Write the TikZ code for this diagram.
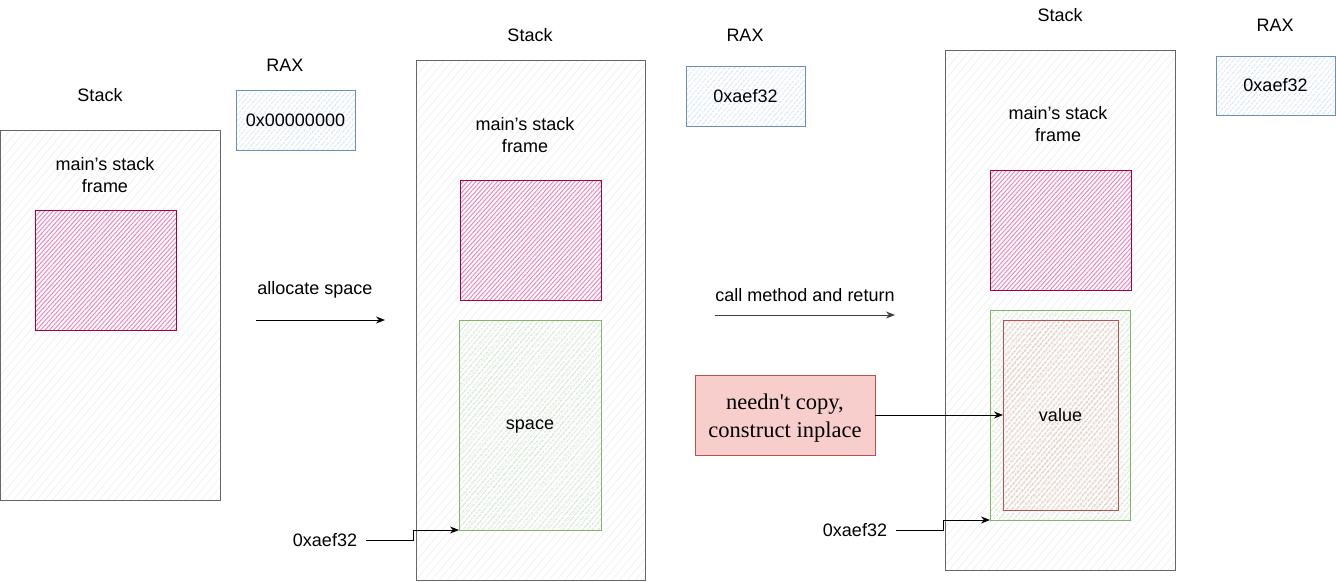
\documentclass[tikz,border=0pt]{standalone}
\usepackage{fontspec}
\setmainfont{Liberation Sans}
\newfontfamily\notefont{Liberation Serif}
\usetikzlibrary{patterns.meta,arrows.meta}
\definecolor{stackstroke}{HTML}{666666}
\definecolor{stackfill}{HTML}{E6E6E6}
\definecolor{pinkstroke}{HTML}{A50040}
\definecolor{pinkfill}{HTML}{D80073}
\definecolor{bluestroke}{HTML}{6C8EBF}
\definecolor{bluefill}{HTML}{DAE8FC}
\definecolor{greenstroke}{HTML}{82B366}
\definecolor{greenfill}{HTML}{D5E8D4}
\definecolor{redstroke}{HTML}{B85450}
\definecolor{redfill}{HTML}{F8CECC}
\tikzset{
  txt/.style={font=\fontsize{18}{22}\selectfont, inner sep=0pt, align=center},
  box/.style={anchor=north west, inner sep=0pt, outer sep=0pt, line width=1pt, txt},
  stackbox/.style={box, draw=stackstroke, pattern={Lines[angle=50,distance=6pt,line width=0.8pt]}, pattern color=stackfill!60},
  pinkbox/.style={box, draw=pinkstroke, pattern={Lines[angle=48,distance=3.2pt,line width=0.9pt]}, pattern color=pinkfill!50},
  bluebox/.style={box, draw=bluestroke, pattern={Lines[angle=50,distance=4pt,line width=1.2pt]}, pattern color=bluefill!90!bluestroke},
  greenbox/.style={box, draw=greenstroke, pattern={Lines[angle=50,distance=4pt,line width=1.2pt]}, pattern color=greenfill!90!greenstroke},
  redbox/.style={box, draw=redstroke, pattern={Lines[angle=50,distance=4pt,line width=1.2pt]}, pattern color=redfill!90!redstroke},
  notebox/.style={box, draw=redstroke, fill=redfill},
  notetext/.style={inner sep=0pt, align=center, font=\notefont\fontsize{22.5}{28}\selectfont},
  arr/.style={-{Stealth[length=9pt,width=7pt]}, line width=1pt},
  addr/.style={txt, inner xsep=9pt},
}
\begin{document}
\begin{tikzpicture}[x=1pt,y=-1pt]
\useasboundingbox (0,0) rectangle (1336,581);
% panel 1
\node[txt] (st1) at (100,95) {Stack};
\node[stackbox, minimum width=220pt, minimum height=370pt] (s1) at (0,130) {};
\node[txt] (mf1) at (105,175) {main's stack\\frame};
\node[pinkbox, minimum width=141pt, minimum height=120pt] (p1) at (35,210) {};
\node[txt] (rax1) at (285,65) {RAX};
\node[bluebox, minimum width=119pt, minimum height=60pt] (r1) at (236,90) {0x00000000};
\node[txt] (al) at (315,290) {allocate space};
\coordinate (a1s) at (256,320);
\coordinate (a1e) at (385,320);
\draw[arr] (a1s) -- (a1e);
% panel 2
\node[txt] (st2) at (530,35) {Stack};
\node[stackbox, minimum width=229pt, minimum height=520pt] (s2) at (416,60) {};
\node[txt] (mf2) at (525,135) {main's stack\\frame};
\node[pinkbox, minimum width=141pt, minimum height=120pt] (p2) at (460,180) {};
\node[greenbox, minimum width=142pt, minimum height=210pt] (g2) at (459,320) {\vphantom{l}space};
\node[txt] (rax2) at (745,35) {RAX};
\node[bluebox, minimum width=119pt, minimum height=60pt] (r2) at (686,66) {0xaef32};
\node[addr] (l2) at (325,540) {0xaef32};
\coordinate (k2) at (413,540);
\draw[arr] (l2.east) -- (k2) |- (g2.south west);
\node[txt] (cm) at (805,295) {call method and return};
\coordinate (a2s) at (715,315);
\coordinate (a2e) at (895,315);
\draw[arr, draw=black!75] (a2s) -- (a2e);
% panel 3
\node[txt] (st3) at (1060,15) {Stack};
\node[stackbox, minimum width=230pt, minimum height=520pt] (s3) at (945,50) {};
\node[txt] (mf3) at (1058,124) {main's stack\\frame};
\node[pinkbox, minimum width=141pt, minimum height=120pt] (p3) at (990,170) {};
\node[greenbox, minimum width=140pt, minimum height=210pt] (g3) at (990,310) {};
\node[redbox, minimum width=115pt, minimum height=190pt] (v3) at (1003,320) {value};
\node[txt] (rax3) at (1275,25) {RAX};
\node[bluebox, minimum width=119pt, minimum height=59pt] (r3) at (1216,56) {0xaef32};
\node[addr] (l3) at (855,530) {0xaef32};
\coordinate (k3) at (943,530);
\draw[arr] (l3.east) -- (k3) |- (g3.south west);
\node[notebox, minimum width=180pt, minimum height=80pt] (note) at (695,375) {};
\node[notetext] (notet) at (785,418) {needn't copy,\\construct inplace};
\draw[arr] (note.east) -- (v3.west);
\end{tikzpicture}
\end{document}
